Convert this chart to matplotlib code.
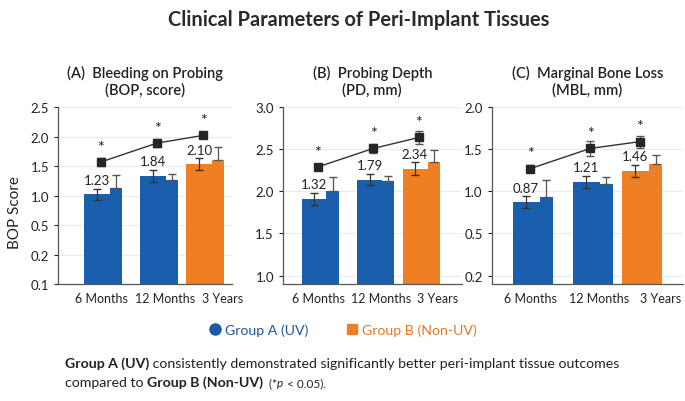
import numpy as np
import matplotlib
matplotlib.use("Agg")
from matplotlib import pyplot as plt
from matplotlib.lines import Line2D

plt.rcParams['font.family'] = ['Lato', 'DejaVu Sans']

# ---- data ----
periods = ["6 Months", "12 Months", "3 Years"]
group_x = [0, 1, 1.82]
tick_x = [-0.03, 1.1, 2.12]

titles = ["(A)  Bleeding on Probing\n(BOP, score)",
          "(B)  Probing Depth\n(PD, mm)",
          "(C)  Marginal Bone Loss\n(MBL, mm)"]

# main (wide) bar, its +/- error
bop_main = [1.02, 1.33, 1.53]
bop_main_err = [0.09, 0.10, 0.10]
pd_main = [1.91, 2.14, 2.27]
pd_main_err = [0.07, 0.065, 0.075]
mbl_main = [0.87, 1.115, 1.24]
mbl_main_err = [0.07, 0.07, 0.07]

# narrow bar, upper error only
bop_side = [1.125, 1.27, 1.60]
bop_side_err = [0.23, 0.10, 0.22]
pd_side = [2.01, 2.12, 2.35]
pd_side_err = [0.16, 0.06, 0.14]
mbl_side = [0.93, 1.09, 1.33]
mbl_side_err = [0.21, 0.075, 0.10]

# black square trend line
bop_line = [1.57, 1.89, 2.02]
bop_line_err = [0.06, 0.07, 0.05]
pd_line = [2.29, 2.51, 2.64]
pd_line_err = [0.03, 0.05, 0.08]
mbl_line = [1.27, 1.51, 1.59]
mbl_line_err = [0.04, 0.09, 0.07]

bop_labels = ["1.23", "1.84", "2.10"]
pd_labels = ["1.32", "1.79", "2.34"]
mbl_labels = ["0.87", "1.21", "1.46"]

bop_ticks = [0.1, 0.2, 0.5, 1.0, 1.5, 2.0, 2.5]
pd_ticks = [1.0, 1.5, 2.0, 2.5, 3.0]
mbl_ticks = [0.2, 0.5, 1.0, 1.5, 2.0]

BLUE = "#1a5fae"
ORANGE = "#ef7f22"
bar_colors = [BLUE, BLUE, ORANGE]


def step_scale(ticks):
    # tick values sit at equal distances, linear in between
    t = np.array(ticks, float)
    p = np.arange(len(t), dtype=float)

    def fwd(v):
        v = np.asarray(v, float)
        out = np.interp(v, t, p)
        out = np.where(v < t[0], (v - t[0]) / (t[1] - t[0]), out)
        out = np.where(v > t[-1], p[-1] + (v - t[-1]) / (t[-1] - t[-2]), out)
        return out

    def inv(y):
        y = np.asarray(y, float)
        out = np.interp(y, p, t)
        out = np.where(y < 0, t[0] + y * (t[1] - t[0]), out)
        out = np.where(y > p[-1], t[-1] + (y - p[-1]) * (t[-1] - t[-2]), out)
        return out
    return fwd, inv


fig = plt.figure(figsize=(6.85, 4.02), dpi=100)
fig.patch.set_facecolor("white")

panels = [
    dict(main=bop_main, main_err=bop_main_err, side=bop_side, side_err=bop_side_err,
         line=bop_line, line_err=bop_line_err, labels=bop_labels, ticks=bop_ticks,
         scale="step", ylim=(0.1, 2.5), xlim=(-0.80, 2.3), rect=[0.085, 0.291, 0.254, 0.440]),
    dict(main=pd_main, main_err=pd_main_err, side=pd_side, side_err=pd_side_err,
         line=pd_line, line_err=pd_line_err, labels=pd_labels, ticks=pd_ticks,
         scale="linear", ylim=(0.9, 3.0), xlim=(-0.67, 2.55), rect=[0.413, 0.291, 0.261, 0.440]),
    dict(main=mbl_main, main_err=mbl_main_err, side=mbl_side, side_err=mbl_side_err,
         line=mbl_line, line_err=mbl_line_err, labels=mbl_labels, ticks=mbl_ticks,
         scale="step", ylim=(0.14, 2.0), xlim=(-0.68, 2.5), rect=[0.718, 0.291, 0.279, 0.440]),
]

w_main, w_side = 0.45, 0.22
x = np.array(group_x)
x_main = x - (w_main + w_side) / 2 + w_main / 2
x_side = x_main + w_main / 2 + w_side / 2
x_line = x - 0.04

for i, pnl in enumerate(panels):
    ax = fig.add_axes(pnl["rect"])
    if pnl["scale"] == "step":
        ax.set_yscale("function", functions=step_scale(pnl["ticks"]))
    ax.set_ylim(*pnl["ylim"])
    ax.set_xlim(*pnl["xlim"])

    ax.bar(x_main, pnl["main"], width=w_main, color=bar_colors, zorder=2)
    ax.bar(x_side, pnl["side"], width=w_side, color=bar_colors, zorder=2)
    ax.errorbar(x_main, pnl["main"], yerr=pnl["main_err"], fmt="none",
                ecolor="#333333", elinewidth=0.9, capsize=3, zorder=3)
    ax.errorbar(x_side, pnl["side"], yerr=[np.zeros(3), pnl["side_err"]], fmt="none",
                ecolor="#555555", elinewidth=0.9, capsize=3, zorder=3)
    ax.errorbar(x_line, pnl["line"], yerr=pnl["line_err"], fmt="none",
                ecolor="#555555", elinewidth=0.9, capsize=3, zorder=3)
    ax.plot(x_line, pnl["line"], color="#333333", lw=1.0, marker="s", ms=6,
            mfc="#262626", mec="#262626", zorder=4)

    for xi, yi in zip(x_line, pnl["line"]):
        ax.annotate("*", (xi, yi), xytext=(0, 6), textcoords="offset points",
                    ha="center", va="bottom", fontsize=11.5, color="#222222")
    for xi, yi, e, lab in zip(x_main, pnl["main"], pnl["main_err"], pnl["labels"]):
        ax.annotate(lab, (xi, yi + e), xytext=(0, 2), textcoords="offset points",
                    ha="center", va="bottom", fontsize=9.5, color="#222222", zorder=5)

    ax.set_yticks(pnl["ticks"])
    ax.set_yticklabels([f"{t:.1f}" for t in pnl["ticks"]])
    ax.yaxis.set_minor_locator(matplotlib.ticker.NullLocator())
    ax.set_xticks(tick_x)
    ax.set_xticklabels(periods)
    ax.tick_params(axis="x", length=0, labelsize=9, pad=6, colors="#222222")
    ax.tick_params(axis="y", length=3, labelsize=9.5, colors="#222222", width=0.8)
    ax.grid(axis="y", color="#ececec", lw=0.8, zorder=0)
    for s in ["top", "right"]:
        ax.spines[s].set_visible(False)
    for s in ["left", "bottom"]:
        ax.spines[s].set_color("#555555")
        ax.spines[s].set_linewidth(0.9)
    ax.set_title(titles[i], fontsize=10.5, fontweight="semibold", color="#222222",
                 pad=9.5, linespacing=1.25)
    if i == 0:
        ax.set_ylabel("BOP Score", fontsize=11, color="#222222")
        ax.yaxis.set_label_coords(-0.21, 0.41)

fig.suptitle("Clinical Parameters of Peri-Implant Tissues", x=0.524, y=0.975,
             fontsize=14.4, fontweight="bold", color="#2a2a2a")

handles = [Line2D([], [], marker="o", ls="", color="#1d58a5", ms=8),
           Line2D([], [], marker="s", ls="", color=ORANGE, ms=7)]
leg = fig.legend(handles, ["Group A (UV)", "Group B (Non-UV)"], loc="center",
                 bbox_to_anchor=(0.5, 0.178), ncol=2, frameon=False, fontsize=10.2,
                 handletextpad=0.2, columnspacing=2.6, handlelength=1.0)
for txt, c in zip(leg.get_texts(), ["#1d58a5", "#e8771f"]):
    txt.set_color(c)

# footnote built from pieces of different weight
renderer = fig.canvas.get_renderer()


def write_line(pieces, x0, y0):
    xpos = x0
    for s, kw in pieces:
        t = fig.text(xpos, y0, s, fontsize=kw.get("size", 10.2), color="#222222",
                     fontweight=kw.get("weight", "normal"),
                     fontstyle=kw.get("style", "normal"), va="baseline", ha="left")
        bb = t.get_window_extent(renderer=renderer)
        xpos += bb.width / fig.bbox.width


write_line([("Group A (UV)", {"weight": "bold"}),
            (" consistently demonstrated significantly better peri-implant tissue outcomes", {})],
           0.095, 0.0846)
write_line([("compared to ", {}), ("Group B (Non-UV)", {"weight": "bold"}),
            ("  (*", {"size": 8.5}), ("p", {"size": 8.5, "style": "italic"}),
            (" < 0.05).", {"size": 8.5})],
           0.095, 0.0373)

fig.savefig("out.png", dpi=100)
